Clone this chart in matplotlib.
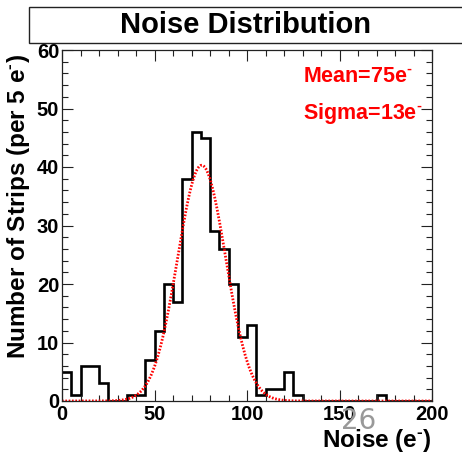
import matplotlib
matplotlib.use("Agg")
import matplotlib.pyplot as plt
import matplotlib.patches as mpatches
from matplotlib.ticker import MultipleLocator
import numpy as np

plt.rcParams['font.family'] = ['Liberation Sans', 'DejaVu Sans']
plt.rcParams['font.weight'] = 'bold'
plt.rcParams['mathtext.fontset'] = 'custom'
plt.rcParams['mathtext.rm'] = 'Liberation Sans:bold'
plt.rcParams['mathtext.bf'] = 'Liberation Sans:bold'
plt.rcParams['mathtext.default'] = 'bf'

# Data: histogram of noise (bin width 5 e-), 0..200
bin_edges = np.arange(0, 205, 5)
counts = [5, 1, 6, 6, 3, 0, 0, 1, 1, 7,
          12, 20, 17, 38, 46, 45, 29, 26, 20, 11,
          13, 1, 2, 2, 5, 1, 0, 0, 0, 0,
          0, 0, 0, 0, 1, 0, 0, 0, 0, 0]
fit_mean = 75.5
fit_sigma = 13.0
fit_amp = 40.3
title = "Noise Distribution"
xlabel = r"Noise (e$^{\text{-}}$)"
ylabel = r"Number of Strips (per 5 e$^{\text{-}}$)"
mean_text = r"Mean=75e$^{\text{-}}$"
sigma_text = r"Sigma=13e$^{\text{-}}$"
page_num = "26"

W = H = 462
fig = plt.figure(figsize=(W / 100, H / 100), dpi=100)

def fx(px):
    return px / W

def fy(py):
    return 1 - py / H

ax_l, ax_r, ax_t, ax_b = 62, 432, 50, 401
ax = fig.add_axes([fx(ax_l), fy(ax_b), fx(ax_r - ax_l), (ax_b - ax_t) / H])

ax.stairs(counts, bin_edges, color='black', lw=1.9, baseline=None)

xf = np.linspace(0, 200, 801)
yf = fit_amp * np.exp(-0.5 * ((xf - fit_mean) / fit_sigma) ** 2)
ax.plot(xf, yf, color='red', lw=2.0, ls=(0, (0.6, 0.6)))

ax.set_xlim(0, 200)
ax.set_ylim(0, 60)
ax.xaxis.set_major_locator(MultipleLocator(50))
ax.xaxis.set_minor_locator(MultipleLocator(10))
ax.yaxis.set_major_locator(MultipleLocator(10))
ax.yaxis.set_minor_locator(MultipleLocator(2))
ax.tick_params(which='both', direction='in', top=True, right=True, width=0.8, color='#222222')
ax.tick_params(which='major', length=8)
ax.tick_params(which='minor', length=4.3)
ax.tick_params(axis='both', labelsize=14.5, pad=3)
ax.tick_params(axis='y', pad=2)
for lab in ax.get_xticklabels() + ax.get_yticklabels():
    lab.set_fontweight('bold')
for sp in ax.spines.values():
    sp.set_linewidth(0.9)
    sp.set_color('#222222')

# title box
rect = mpatches.Rectangle((fx(29), fy(43)), fx(480 - 29), (43 - 7) / H,
                          transform=fig.transFigure, facecolor='white',
                          edgecolor='#222222', lw=1.0, clip_on=False)
fig.add_artist(rect)
fig.text(fx(245), fy(25), title, ha='center', va='center', fontsize=21,
         fontweight='bold', color='black')

# axis labels
fig.text(fx(432), fy(441), xlabel, ha='right', va='center', fontsize=17.5,
         fontweight='bold')
fig.text(fx(19), fy(206), ylabel, ha='center', va='center', rotation=90,
         fontsize=17.5, fontweight='bold')

# fit info
fig.text(fx(303), fy(77), mean_text, ha='left', va='center', fontsize=15.5,
         fontweight='bold', color='red')
fig.text(fx(303), fy(114), sigma_text, ha='left', va='center', fontsize=15.5,
         fontweight='bold', color='red')

# page number overlay
fig.text(fx(359), fy(421), page_num, ha='center', va='center', fontsize=20,
         fontweight='normal', color='#999999', family='DejaVu Sans')

fig.savefig('out.png', dpi=100)
